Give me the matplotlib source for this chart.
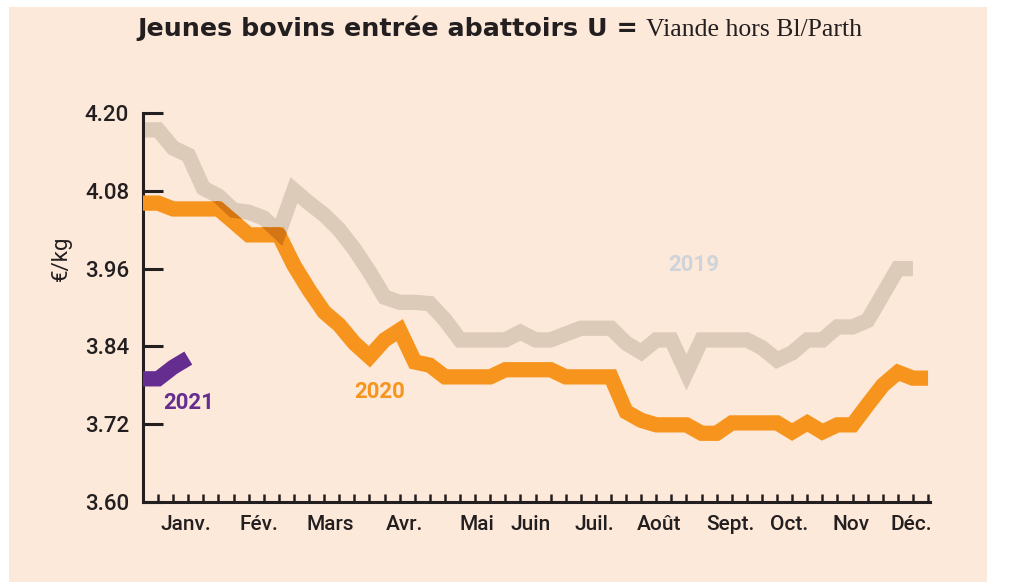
import matplotlib
matplotlib.use('Agg')
import matplotlib.pyplot as plt
import numpy as np
from matplotlib.patches import Rectangle
from matplotlib.path import Path
from matplotlib.transforms import IdentityTransform

# weekly prices, €/kg (week index 0 = first week of the year)
prix_2019 = [4.174, 4.174, 4.146, 4.135, 4.084, 4.072, 4.050, 4.047, 4.038, 4.016,
             4.081, 4.061, 4.043, 4.020, 3.990, 3.955, 3.916, 3.908, 3.908, 3.906,
             3.881, 3.850, 3.850, 3.850, 3.850, 3.862, 3.850, 3.850, 3.859, 3.868,
             3.868, 3.868, 3.845, 3.831, 3.850, 3.850, 3.800, 3.850, 3.850, 3.850,
             3.850, 3.838, 3.819, 3.830, 3.850, 3.850, 3.870, 3.870, 3.880, 3.920,
             3.960, 3.960]
prix_2020 = [4.061, 4.061, 4.052, 4.052, 4.052, 4.052, 4.032, 4.012, 4.012, 4.012,
             3.965, 3.927, 3.893, 3.873, 3.845, 3.824, 3.850, 3.865, 3.816, 3.811,
             3.793, 3.793, 3.793, 3.793, 3.804, 3.804, 3.804, 3.804, 3.793, 3.793,
             3.793, 3.793, 3.739, 3.726, 3.719, 3.719, 3.719, 3.706, 3.706, 3.722,
             3.722, 3.722, 3.722, 3.708, 3.722, 3.708, 3.719, 3.719, 3.750, 3.780,
             3.800, 3.791, 3.791]
prix_2021 = [3.790, 3.790, 3.808, 3.822]

mois = ['Janv.', 'Fév.', 'Mars', 'Avr.', 'Mai', 'Juin', 'Juil.', 'Août',
        'Sept.', 'Oct.', 'Nov', 'Déc.']
mois_pos = [2.85, 7.7, 12.4, 17.3, 22.1, 25.7, 29.9, 34.2, 38.9, 42.8, 46.9, 50.9]
y_ticks = [3.60, 3.72, 3.84, 3.96, 4.08, 4.20]

FOND = '#fde9d9'
ORANGE = '#f7941d'
BEIGE = '#dccbb9'
CROISE = '#d57615'   # beige x orange (multiply) where the two lines overlap
VIOLET = '#662d91'
TEXTE = '#231f20'

W, H = 1013, 582
fig = plt.figure(figsize=(W / 100, H / 100), dpi=100)
fig.patch.set_facecolor('white')
fig.patches.append(Rectangle((9 / W, 0), 978 / W, 575 / H, transform=fig.transFigure,
                             facecolor=FOND, edgecolor='none', zorder=-10))

ax = fig.add_axes([143 / W, 80 / H, 787 / W, 389 / H])
ax.set_facecolor('none')
ax.set_xlim(0, 52.13)
ax.set_ylim(3.60, 4.20)

lw = 11
kw = dict(linewidth=lw, solid_capstyle='butt', solid_joinstyle='miter', clip_on=False)
x19 = np.arange(len(prix_2019))
x20 = np.arange(len(prix_2020))
ax.plot(x19, prix_2019, color=BEIGE, zorder=2, **kw)
ax.plot(x20, prix_2020, color=ORANGE, zorder=3, **kw)


def stroke_path(xs, ys, width_pt):
    """Rough outline (display coords) of a thick polyline: one quad per segment + disc per joint."""
    pts = ax.transData.transform(np.column_stack([xs, ys]))
    h = width_pt * fig.dpi / 72 / 2
    parts = []
    for p0, p1 in zip(pts[:-1], pts[1:]):
        d = p1 - p0
        n = np.array([-d[1], d[0]]) / np.hypot(*d) * h
        parts.append(Path([p0 + n, p1 + n, p1 - n, p0 - n, p0 + n],
                          [Path.MOVETO] + [Path.LINETO] * 3 + [Path.CLOSEPOLY]))
    ang = np.linspace(0, -2 * np.pi, 25)
    for p in pts[1:-1]:
        circ = np.column_stack([p[0] + h * np.cos(ang), p[1] + h * np.sin(ang)])
        parts.append(Path(circ, [Path.MOVETO] + [Path.LINETO] * 23 + [Path.CLOSEPOLY]))
    return Path.make_compound_path(*parts)


# darker colour where the beige line runs under the orange one
dark, = ax.plot(x19, prix_2019, color=CROISE, zorder=3.5, linewidth=lw,
                solid_capstyle='butt', solid_joinstyle='miter')
dark.set_clip_path(stroke_path(x20, prix_2020, lw), IdentityTransform())

ax.plot(range(len(prix_2021)), prix_2021, color=VIOLET, zorder=4, **kw)

for s in ['top', 'right']:
    ax.spines[s].set_visible(False)
for s in ['left', 'bottom']:
    ax.spines[s].set_linewidth(2.2)
    ax.spines[s].set_color(TEXTE)

ax.set_yticks(y_ticks)
ax.set_yticklabels([f'{v:.2f}' for v in y_ticks])
ax.tick_params(axis='y', direction='in', length=14.5, width=2.2, color=TEXTE,
               pad=10, labelsize=16, labelcolor=TEXTE)

ax.set_xticks(mois_pos)
ax.set_xticklabels(mois)
ax.set_xticks(range(1, 53), minor=True)
ax.tick_params(axis='x', which='major', length=0, pad=9, labelsize=15, labelcolor=TEXTE)
ax.tick_params(axis='x', which='minor', direction='in', length=5.5, width=1.8, color=TEXTE)
for lab in ax.get_xticklabels() + ax.get_yticklabels():
    lab.set_fontfamily('Roboto')
    lab.set_fontweight('medium')

fig.text(61 / W, 1 - 258 / H, '€/kg', rotation=90, ha='center', va='center',
         fontsize=16, fontfamily='Roboto', color=TEXTE)

ax.text(36.5, 3.965, '2019', color='#cfd3da', fontsize=16, fontweight='bold',
        fontfamily='Roboto', ha='center', va='center')
ax.text(15.7, 3.770, '2020', color=ORANGE, fontsize=16, fontweight='bold',
        fontfamily='Roboto', ha='center', va='center')
ax.text(3.0, 3.753, '2021', color=VIOLET, fontsize=16, fontweight='bold',
        fontfamily='Roboto', ha='center', va='center')

# title: bold part then serif part right after it
t1 = fig.text(137 / W, 1 - 36 / H, 'Jeunes bovins entrée abattoirs U =', ha='left',
              va='baseline', fontsize=18.3, fontweight='bold', fontfamily='DejaVu Sans',
              color=TEXTE)
fig.canvas.draw()
bb = t1.get_window_extent()
fig.text((bb.x1 + 8) / W, 1 - 36 / H, 'Viande hors Bl/Parth', ha='left',
         va='baseline', fontsize=18.5, fontfamily='Liberation Serif', color=TEXTE)

fig.savefig('out.png', dpi=100, facecolor=fig.get_facecolor())
